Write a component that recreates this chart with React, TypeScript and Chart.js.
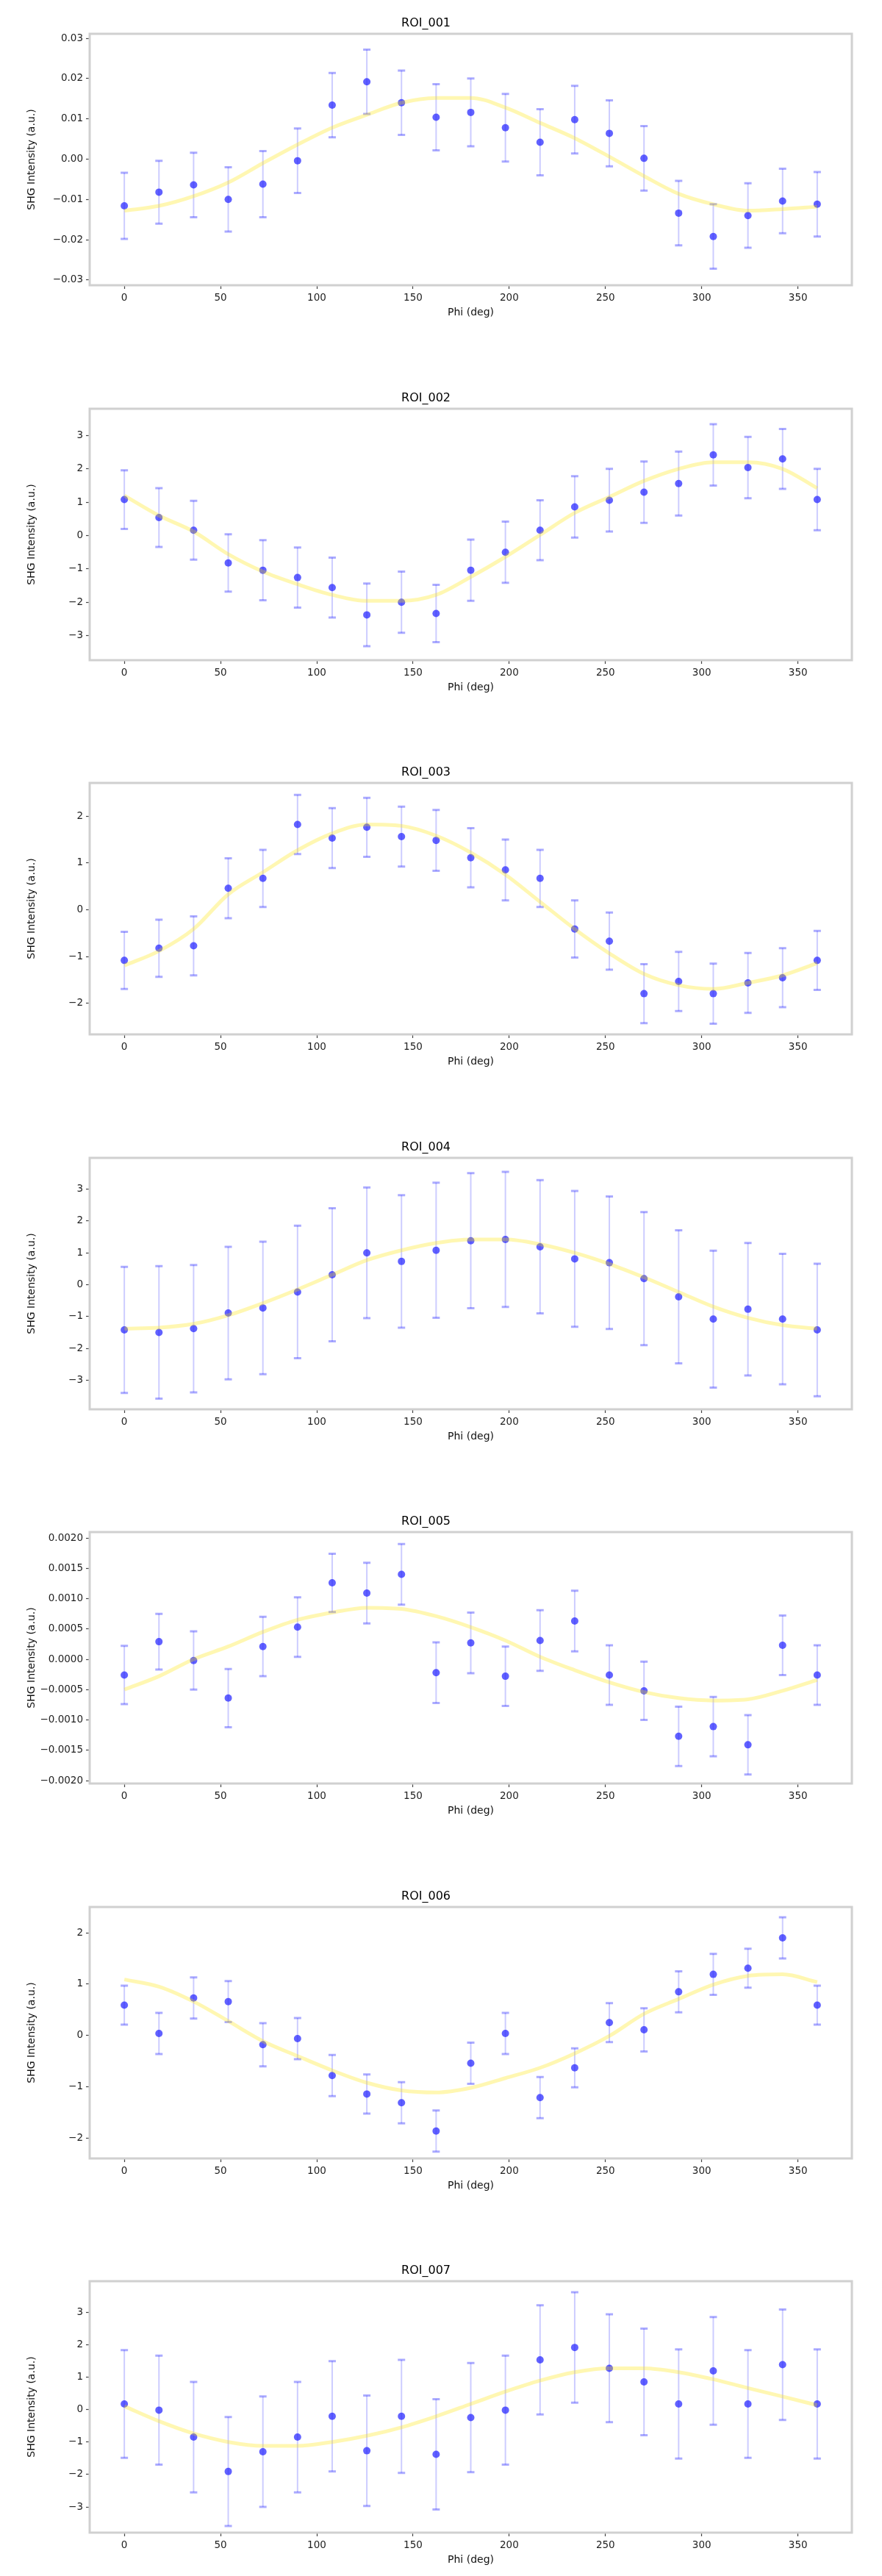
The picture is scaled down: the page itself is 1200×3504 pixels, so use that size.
import React, { useEffect, useRef } from "react";
import { Chart, registerables } from "chart.js";

Chart.register(...registerables);

// ---------- data ----------
const angles = [0, 18, 36, 54, 72, 90, 108, 126, 144, 162, 180, 198, 216, 234, 252, 270, 288, 306, 324, 342, 360];
const xTicks = [0, 50, 100, 150, 200, 250, 300, 350];

const titles = ["ROI_001", "ROI_002", "ROI_003", "ROI_004", "ROI_005", "ROI_006", "ROI_007"];
const xLabel = "Phi (deg)";
const yLabel = "SHG Intensity (a.u.)";

const p1Values = [-0.0116, -0.0082, -0.0064, -0.0100, -0.0062, -0.0004, 0.0134, 0.0192, 0.0140, 0.0104, 0.0116, 0.0078, 0.0042, 0.0098, 0.0064, 0.0002, -0.0134, -0.0192, -0.0140, -0.0104, -0.0112];
const p1Errors = [0.0082, 0.0078, 0.0080, 0.0080, 0.0082, 0.0080, 0.0080, 0.0080, 0.0080, 0.0082, 0.0084, 0.0084, 0.0082, 0.0084, 0.0082, 0.0080, 0.0080, 0.0080, 0.0080, 0.0080, 0.0080];
const p1Fit = [-0.0128, -0.0116, -0.0092, -0.0058, -0.0010, 0.0036, 0.0078, 0.0110, 0.0140, 0.0152, 0.0152, 0.0128, 0.0090, 0.0052, 0.0006, -0.0042, -0.0086, -0.0112, -0.0128, -0.0124, -0.0118];
const p1Ticks = [-0.03, -0.02, -0.01, 0, 0.01, 0.02, 0.03];
const p1Range = [-0.0313, 0.0311];

const p2Values = [1.08, 0.54, 0.16, -0.82, -1.04, -1.26, -1.56, -2.38, -2.0, -2.34, -1.04, -0.5, 0.16, 0.86, 1.06, 1.3, 1.56, 2.42, 2.04, 2.3, 1.08];
const p2Errors = [0.88, 0.88, 0.88, 0.86, 0.9, 0.9, 0.9, 0.94, 0.92, 0.86, 0.92, 0.92, 0.9, 0.92, 0.94, 0.92, 0.96, 0.92, 0.92, 0.9, 0.92];
const p2Fit = [1.2, 0.6, 0.12, -0.56, -1.08, -1.46, -1.78, -1.96, -1.96, -1.78, -1.24, -0.64, 0.02, 0.68, 1.16, 1.64, 2.0, 2.2, 2.2, 2.0, 1.42];
const p2Ticks = [-3, -2, -1, 0, 1, 2, 3];
const p2Range = [-3.739, 3.805];

const p3Values = [-1.08, -0.82, -0.77, 0.46, 0.67, 1.82, 1.53, 1.76, 1.56, 1.48, 1.11, 0.85, 0.67, -0.41, -0.67, -1.79, -1.53, -1.79, -1.56, -1.45, -1.08];
const p3Errors = [0.61, 0.61, 0.63, 0.64, 0.61, 0.63, 0.64, 0.63, 0.64, 0.65, 0.63, 0.65, 0.61, 0.61, 0.61, 0.63, 0.63, 0.64, 0.64, 0.63, 0.63];
const p3Fit = [-1.19, -0.88, -0.41, 0.33, 0.8, 1.27, 1.63, 1.82, 1.79, 1.58, 1.22, 0.75, 0.17, -0.41, -0.93, -1.37, -1.61, -1.69, -1.56, -1.4, -1.14];
const p3Ticks = [-2, -1, 0, 1, 2];
const p3Range = [-2.659, 2.706];

const p4Values = [-1.42, -1.5, -1.38, -0.89, -0.73, -0.23, 0.31, 1.0, 0.73, 1.08, 1.38, 1.42, 1.19, 0.81, 0.69, 0.19, -0.38, -1.08, -0.77, -1.08, -1.42];
const p4Errors = [1.98, 2.08, 2.0, 2.08, 2.08, 2.08, 2.09, 2.05, 2.08, 2.12, 2.12, 2.12, 2.09, 2.13, 2.08, 2.09, 2.09, 2.15, 2.08, 2.05, 2.08];
const p4Fit = [-1.38, -1.35, -1.23, -0.96, -0.58, -0.15, 0.31, 0.77, 1.08, 1.31, 1.42, 1.42, 1.27, 1.0, 0.65, 0.23, -0.23, -0.69, -1.04, -1.27, -1.38];
const p4Ticks = [-3, -2, -1, 0, 1, 2, 3];
const p4Range = [-3.912, 3.981];

const p5Values = [-0.00026, 0.00029, -0.00002, -0.00064, 0.00021, 0.00053, 0.00126, 0.00109, 0.0014, -0.00022, 0.00027, -0.00028, 0.00031, 0.00063, -0.00026, -0.00052, -0.00127, -0.00111, -0.00141, 0.00023, -0.00026];
const p5Errors = [0.00048, 0.00046, 0.00048, 0.00048, 0.00049, 0.00049, 0.00048, 0.0005, 0.0005, 0.0005, 0.0005, 0.00049, 0.0005, 0.0005, 0.00049, 0.00048, 0.00049, 0.00049, 0.00049, 0.00049, 0.00049];
const p5Fit = [-0.0005, -0.00028, 0.0, 0.00021, 0.00045, 0.00065, 0.00077, 0.00085, 0.00083, 0.00071, 0.00053, 0.00031, 0.00004, -0.00018, -0.00038, -0.00054, -0.00064, -0.00068, -0.00066, -0.00052, -0.00034];
const p5Ticks = [-0.002, -0.0015, -0.001, -0.0005, 0, 0.0005, 0.001, 0.0015, 0.002];
const p5Range = [-0.002048, 0.002097];

const p6Values = [0.59, 0.04, 0.73, 0.66, -0.18, -0.06, -0.78, -1.14, -1.31, -1.86, -0.54, 0.04, -1.21, -0.63, 0.25, 0.11, 0.85, 1.19, 1.31, 1.9, 0.59];
const p6Errors = [0.38, 0.4, 0.4, 0.4, 0.42, 0.4, 0.4, 0.38, 0.4, 0.4, 0.4, 0.4, 0.4, 0.38, 0.38, 0.42, 0.4, 0.4, 0.38, 0.4, 0.38];
const p6Fit = [1.09, 0.95, 0.66, 0.28, -0.11, -0.4, -0.68, -0.92, -1.07, -1.11, -1.02, -0.83, -0.63, -0.35, -0.01, 0.42, 0.71, 0.99, 1.16, 1.19, 1.04];
const p6Ticks = [-2, -1, 0, 1, 2];
const p6Range = [-2.394, 2.501];

const p7Values = [0.17, -0.02, -0.85, -1.91, -1.3, -0.85, -0.21, -1.27, -0.21, -1.38, -0.25, -0.02, 1.53, 1.91, 1.27, 0.85, 0.17, 1.19, 0.17, 1.38, 0.17];
const p7Errors = [1.66, 1.68, 1.7, 1.68, 1.7, 1.7, 1.7, 1.7, 1.74, 1.7, 1.68, 1.68, 1.68, 1.7, 1.66, 1.64, 1.68, 1.66, 1.66, 1.7, 1.68];
const p7Fit = [0.1, -0.36, -0.74, -1.0, -1.12, -1.12, -1.0, -0.81, -0.55, -0.21, 0.17, 0.55, 0.89, 1.15, 1.27, 1.27, 1.15, 0.93, 0.66, 0.4, 0.13];
const p7Ticks = [-3, -2, -1, 0, 1, 2, 3];
const p7Range = [-3.792, 3.951];

const tickDecimals = [2, 0, 0, 0, 4, 0, 0];

const panels = [
  { values: p1Values, errors: p1Errors, fit: p1Fit, ticks: p1Ticks, range: p1Range },
  { values: p2Values, errors: p2Errors, fit: p2Fit, ticks: p2Ticks, range: p2Range },
  { values: p3Values, errors: p3Errors, fit: p3Fit, ticks: p3Ticks, range: p3Range },
  { values: p4Values, errors: p4Errors, fit: p4Fit, ticks: p4Ticks, range: p4Range },
  { values: p5Values, errors: p5Errors, fit: p5Fit, ticks: p5Ticks, range: p5Range },
  { values: p6Values, errors: p6Errors, fit: p6Fit, ticks: p6Ticks, range: p6Range },
  { values: p7Values, errors: p7Errors, fit: p7Fit, ticks: p7Ticks, range: p7Range },
];

// ---------- layout ----------
const FIG_W = 1200;
const FIG_H = 3504;
const CANVAS_H = 500;
const PANEL_PITCH = 509.5;
const FONT = "'DejaVu Sans', sans-serif";

const errorBarPlugin = {
  id: "errorBars",
  beforeDatasetDraw(chart: any, args: any, opts: any) {
    if (args.index !== 1) return;
    const { ctx, chartArea, scales } = chart;
    const xs = scales.x;
    const ys = scales.y;
    const errs: number[] = opts.errors || [];
    const pts = chart.data.datasets[1].data;
    ctx.save();
    ctx.beginPath();
    ctx.rect(chartArea.left, chartArea.top, chartArea.width, chartArea.height);
    ctx.clip();
    for (let i = 0; i < pts.length; i++) {
      const px = xs.getPixelForValue(pts[i].x);
      const yTop = ys.getPixelForValue(pts[i].y + errs[i]);
      const yBot = ys.getPixelForValue(pts[i].y - errs[i]);
      ctx.strokeStyle = "rgba(0, 0, 255, 0.2)";
      ctx.lineWidth = 2;
      ctx.beginPath();
      ctx.moveTo(px, yTop);
      ctx.lineTo(px, yBot);
      ctx.stroke();
      ctx.strokeStyle = "rgba(0, 0, 255, 0.33)";
      ctx.lineWidth = 3;
      ctx.beginPath();
      ctx.moveTo(px - 5, yTop);
      ctx.lineTo(px + 5, yTop);
      ctx.moveTo(px - 5, yBot);
      ctx.lineTo(px + 5, yBot);
      ctx.stroke();
    }
    ctx.restore();
  },
  afterDatasetsDraw(chart: any) {
    const { ctx, chartArea } = chart;
    ctx.save();
    ctx.strokeStyle = "#d0d0d0";
    ctx.lineWidth = 3;
    ctx.strokeRect(chartArea.left, chartArea.top, chartArea.width, chartArea.height);
    ctx.restore();
  },
};

function fmt(v: number, dec: number): string {
  const s = Math.abs(v) < 1e-12 ? (0).toFixed(dec) : v.toFixed(dec);
  return s.replace("-", "\u2212");
}

function Panel({ index }: { index: number }) {
  const ref = useRef<HTMLCanvasElement | null>(null);
  useEffect(() => {
    const p = panels[index];
    const dec = tickDecimals[index];
    const chart = new Chart(ref.current as HTMLCanvasElement, {
      type: "scatter",
      data: {
        datasets: [
          {
            label: "fit",
            data: angles.map((a, i) => ({ x: a, y: p.fit[i] })),
            showLine: true,
            borderColor: "rgba(255, 228, 0, 0.3)",
            borderWidth: 5,
            pointRadius: 0,
            cubicInterpolationMode: "monotone",
          },
          {
            label: "data",
            data: angles.map((a, i) => ({ x: a, y: p.values[i] })),
            showLine: false,
            pointRadius: 5,
            pointBackgroundColor: "rgba(30, 30, 255, 0.7)",
            pointBorderWidth: 0,
            backgroundColor: "rgba(30, 30, 255, 0.7)",
          },
        ],
      },
      options: {
        responsive: false,
        animation: false,
        events: [],
        layout: { padding: { left: 0, right: 41, top: 0, bottom: 0 } },
        plugins: {
          legend: { display: false },
          tooltip: { enabled: false },
          title: {
            display: true,
            text: titles[index],
            color: "#000",
            font: { family: FONT, size: 16, weight: "normal", lineHeight: 1.25 },
            padding: { top: 22, bottom: 4 },
          },
          errorBars: { errors: p.errors },
        } as any,
        scales: {
          x: {
            type: "linear",
            min: -18,
            max: 378,
            afterBuildTicks: (scale: any) => {
              scale.ticks = xTicks.map((v) => ({ value: v }));
            },
            afterFit: (scale: any) => {
              scale.height = CANVAS_H - 388;
            },
            ticks: {
              color: "#222",
              font: { family: FONT, size: 13.5 },
              padding: 4,
              maxRotation: 0,
              autoSkip: false,
              callback: (v: any) => String(v),
            },
            grid: { drawOnChartArea: false, drawTicks: true, tickLength: 5, tickColor: "#444", tickWidth: 1.2 },
            border: { display: false },
            title: {
              display: true,
              text: xLabel,
              color: "#111",
              font: { family: FONT, size: 14, lineHeight: 1.2 },
              padding: { top: 0, bottom: 66.6 },
            },
          },
          y: {
            type: "linear",
            min: p.range[0],
            max: p.range[1],
            afterBuildTicks: (scale: any) => {
              scale.ticks = p.ticks.map((v) => ({ value: v }));
            },
            afterFit: (scale: any) => {
              scale.width = 122;
            },
            ticks: {
              color: "#222",
              font: { family: FONT, size: 13.5 },
              padding: 4,
              autoSkip: false,
              callback: (v: any) => fmt(Number(v), dec),
            },
            grid: { drawOnChartArea: false, drawTicks: true, tickLength: 5, tickColor: "#444", tickWidth: 1.2 },
            border: { display: false },
            title: {
              display: true,
              text: yLabel,
              color: "#111",
              font: { family: FONT, size: 14, lineHeight: 1.2 },
              padding: { top: 34.6, bottom: 0 },
            },
          },
        },
      } as any,
      plugins: [errorBarPlugin],
    });
    return () => chart.destroy();
  }, [index]);
  return (
    <canvas
      ref={ref}
      width={FIG_W}
      height={CANVAS_H}
      style={{
        position: "absolute",
        left: 0,
        top: Math.round(PANEL_PITCH * index),
        width: FIG_W,
        height: CANVAS_H,
      }}
    />
  );
}

export default function App() {
  useEffect(() => {
    document.body.style.margin = "0";
  }, []);
  return (
    <div
      style={{
        position: "absolute",
        left: 0,
        top: 0,
        width: FIG_W,
        height: FIG_H,
        overflow: "hidden",
        background: "#fff",
      }}
    >
      {panels.map((_, i) => (
        <Panel key={i} index={i} />
      ))}
    </div>
  );
}
